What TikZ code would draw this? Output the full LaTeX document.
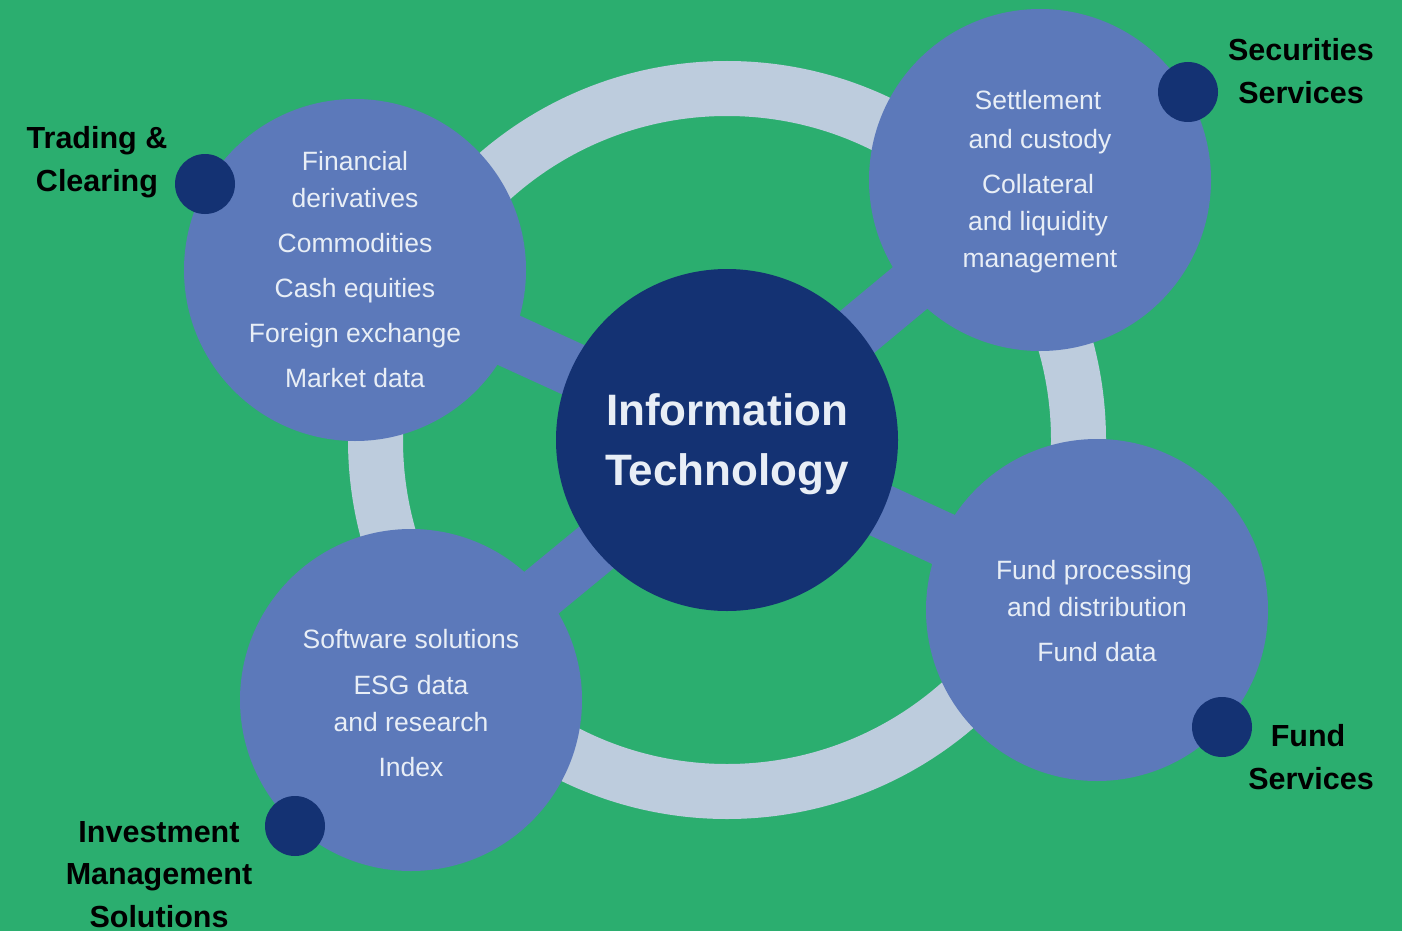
\documentclass[tikz,border=0pt]{standalone}
\usepackage{fontspec}
\setmainfont{Liberation Sans}
\definecolor{bggreen}{HTML}{2BAE6F}
\definecolor{sat}{HTML}{5C79BA}
\definecolor{navy}{HTML}{143273}
\definecolor{ringc}{HTML}{BDCCDD}
\definecolor{txtlight}{HTML}{E8EEF6}
\pgfdeclarelayer{bg}
\pgfsetlayers{bg,main}
\begin{document}
\begin{tikzpicture}[x=1pt,y=-1pt,
  satcircle/.style={circle, fill=sat, minimum size=342pt, inner sep=0pt},
  hub/.style={circle, fill=navy, minimum size=342pt, inner sep=0pt},
  dotc/.style={circle, fill=navy, minimum size=60pt, inner sep=0pt},
  bar/.style={draw=sat, line width=54pt},
  ringstyle/.style={draw=ringc, line width=55pt},
  itemtext/.style={anchor=base, text=txtlight, font=\fontsize{26.5}{32}\selectfont, inner sep=0pt},
  sidelabel/.style={anchor=base, text=black, font=\bfseries\fontsize{30.5}{36}\selectfont, inner sep=0pt},
  hubtext/.style={anchor=base, text=txtlight, font=\bfseries\fontsize{44}{50}\selectfont, inner sep=0pt}]
\useasboundingbox (0,0) rectangle (1402,931);

% satellites and hub
\node[satcircle] (tc) at (355,270) {};
\node[satcircle] (ss) at (1040,180) {};
\node[satcircle] (fs) at (1097,610) {};
\node[satcircle] (ims) at (411,700) {};
\node[hub] (it) at (727,440) {};

\begin{pgfonlayer}{bg}
  \fill[bggreen] (0,0) rectangle (1402,931);
  \draw[ringstyle] (it.center) circle (351.5pt);
  \draw[bar] (it.center) -- (tc.center);
  \draw[bar] (it.center) -- (ss.center);
  \draw[bar] (it.center) -- (fs.center);
  \draw[bar] (it.center) -- (ims.center);
\end{pgfonlayer}

% dots
\node[dotc] (dtc) at (205,184) {};
\node[dotc] (dss) at (1188,92) {};
\node[dotc] (dfs) at (1222,727) {};
\node[dotc] (dims) at (295,826) {};

% hub text
\node[hubtext] (it1) at (727,425) {Information};
\node[hubtext] (it2) at (727,485) {Technology};

% Trading & Clearing items
\node[itemtext] (tc1) at (355,170) {Financial};
\node[itemtext] (tc2) at (355,207) {derivatives};
\node[itemtext] (tc3) at (355,252) {Commodities};
\node[itemtext] (tc4) at (355,297) {Cash equities};
\node[itemtext] (tc5) at (355,342) {Foreign exchange};
\node[itemtext] (tc6) at (355,387) {Market data};

% Securities Services items
\node[itemtext] (ss1) at (1038,110) {Settlement};
\node[itemtext] (ss2) at (1040,148) {and custody};
\node[itemtext] (ss3) at (1038,193) {Collateral};
\node[itemtext] (ss4) at (1038,230) {and liquidity};
\node[itemtext] (ss5) at (1040,267) {management};

% Fund Services items
\node[itemtext] (fs1) at (1094,579) {Fund processing};
\node[itemtext] (fs2) at (1097,616) {and distribution};
\node[itemtext] (fs3) at (1097,661) {Fund data};

% Investment Management Solutions items
\node[itemtext] (ims1) at (411,648) {Software solutions};
\node[itemtext] (ims2) at (411,694) {ESG data};
\node[itemtext] (ims3) at (411,731) {and research};
\node[itemtext] (ims4) at (411,776) {Index};

% side labels
\node[sidelabel] (ltc1) at (97,148) {Trading \&};
\node[sidelabel] (ltc2) at (97,191) {Clearing};
\node[sidelabel] (lss1) at (1301,61) {Securities};
\node[sidelabel] (lss2) at (1301,104) {Services};
\node[sidelabel] (lfs1) at (1308,746) {Fund};
\node[sidelabel] (lfs2) at (1311,789) {Services};
\node[sidelabel] (lims1) at (159,842) {Investment};
\node[sidelabel] (lims2) at (159,884) {Management};
\node[sidelabel] (lims3) at (159,927) {Solutions};
\end{tikzpicture}
\end{document}
